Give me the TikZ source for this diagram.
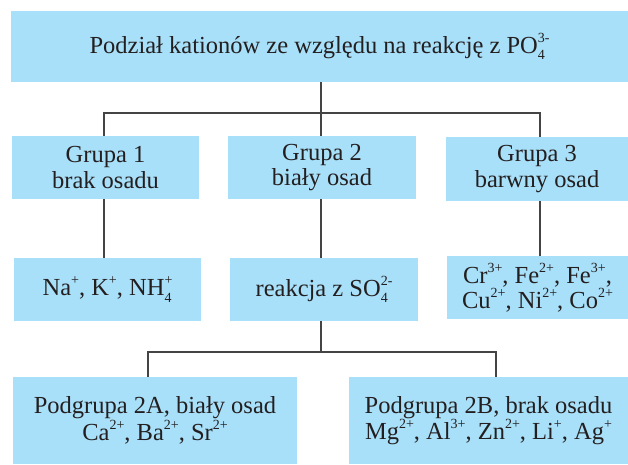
\documentclass[tikz,border=0pt]{standalone}
\usepackage{fontspec}
\setmainfont{Liberation Serif}
\definecolor{boxblue}{RGB}{169,224,249}
\definecolor{linegray}{RGB}{68,68,68}
\definecolor{txtcol}{RGB}{35,31,32}
\newcommand\chg[1]{\raisebox{11pt}{\fontsize{14}{14}\selectfont #1}}
\newcommand\chsb[1]{\raisebox{-6.5pt}{\fontsize{14}{14}\selectfont #1}}
\newcommand\ionstack[2]{\setbox0=\hbox{\chg{#2}}\setbox2=\hbox{\chsb{#1}}\ifdim\wd0>\wd2\relax\rlap{\box2}\box0\else\rlap{\box0}\box2\fi}
\tikzset{
  cbox/.style={fill=boxblue, draw=none, inner sep=0pt, align=center, text=txtcol,
    font=\fontsize{24.5}{25.5}\selectfont},
  conn/.style={draw=linegray, line width=1.1pt}
}
\begin{document}
\begin{tikzpicture}[x=1pt,y=-1pt]
\useasboundingbox (0,0) rectangle (628,464);
\node[cbox, minimum width=617pt, minimum height=71pt] (top) at (319.5,46.5)
  {Podział kationów ze względu na reakcję z PO\ionstack{4}{3-}};
\node[cbox, minimum width=187pt, minimum height=63pt] (g1) at (105.5,167.5) {Grupa 1\\brak osadu};
\node[cbox, minimum width=188pt, minimum height=63pt] (g2) at (322,167.5) {Grupa 2\\biały osad};
\node[cbox, minimum width=182pt, minimum height=64pt] (g3) at (537,169) {Grupa 3\\barwny osad};
\node[cbox, minimum width=187pt, minimum height=63pt] (na) at (107.5,289.5) {Na\chg{+}, K\chg{+}, NH\ionstack{4}{+}};
\node[cbox, minimum width=188pt, minimum height=63pt] (so) at (324,289.5) {reakcja z SO\ionstack{4}{2-}};
\node[cbox, minimum width=181pt, minimum height=63pt] (cr) at (537.5,287.5)
  {Cr\chg{3+}, Fe\chg{2+}, Fe\chg{3+},\\Cu\chg{2+}, Ni\chg{2+}, Co\chg{2+}};
\node[cbox, minimum width=284pt, minimum height=87pt] (pa) at (155,420.5)
  {Podgrupa 2A, biały osad\\Ca\chg{2+}, Ba\chg{2+}, Sr\chg{2+}};
\node[cbox, minimum width=279pt, minimum height=87pt] (pb) at (488.5,420.5)
  {Podgrupa 2B, brak osadu\\Mg\chg{2+}, Al\chg{3+}, Zn\chg{2+}, Li\chg{+}, Ag\chg{+}};
% junction coordinates
\coordinate (j1) at (321,113);
\coordinate (x1) at (104,113);
\coordinate (x3) at (540,113);
\coordinate (j2) at (321,352);
\coordinate (xa) at (148,352);
\coordinate (xb) at (496,352);
\draw[conn] (top.south -| j1) -- (j1);
\draw[conn] (x1 |- g1.north) -- (x1) -- (x3) -- (x3 |- g3.north);
\draw[conn] (j1) -- (j1 |- g2.north);
\draw[conn] (x1 |- g1.south) -- (x1 |- na.north);
\draw[conn] (j1 |- g2.south) -- (j1 |- so.north);
\draw[conn] (x3 |- g3.south) -- (x3 |- cr.north);
\draw[conn] (j2 |- so.south) -- (j2);
\draw[conn] (xa |- pa.north) -- (xa) -- (xb) -- (xb |- pb.north);
\end{tikzpicture}
\end{document}
